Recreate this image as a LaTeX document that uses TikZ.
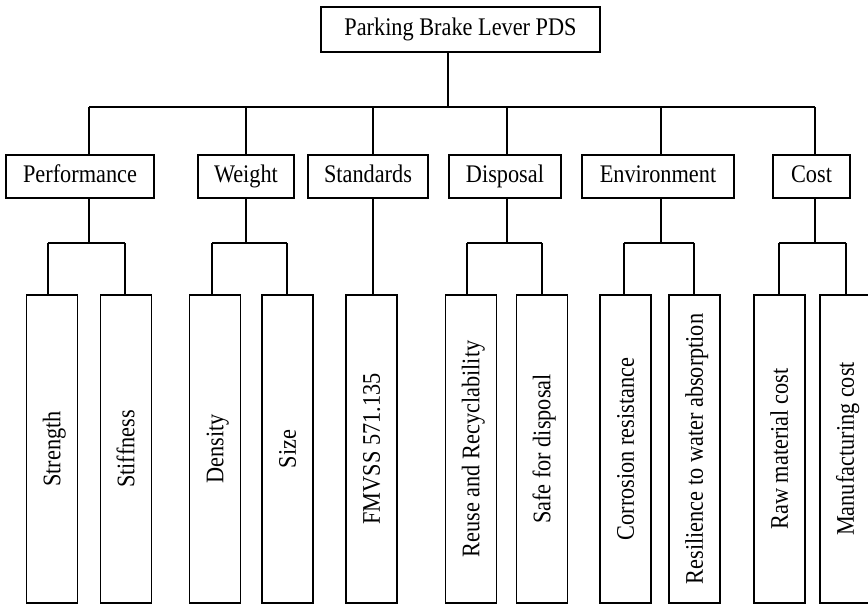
\documentclass[tikz,border=0pt]{standalone}
\usepackage{fontspec}
\setmainfont{Liberation Serif}[FakeStretch=0.88]
\usepackage{tikz}

\begin{document}
\begin{tikzpicture}[x=0.75pt,y=-0.75pt,line width=1.1pt,
	box/.style={draw,rectangle,inner sep=0pt,text height=12.6pt,text depth=4pt,font=\fontsize{19}{22}\selectfont},
	cat/.style={box,minimum height=32.25pt},
	leaf/.style={box,rotate=90,minimum width=231pt,minimum height=38.25pt,text height=15.6pt,text depth=3pt}]
	\useasboundingbox (0,0) rectangle (868,605);

	\node[box,minimum width=209.25pt,minimum height=33.75pt] (top) at (460.5,29.5) {Parking Brake Lever PDS};

	\node[cat,minimum width=111pt] (perf) at (80,176.5) {Performance};
	\node[cat,minimum width=72pt] (weight) at (246,176.5) {Weight};
	\node[cat,minimum width=90pt] (std) at (368,176.5) {Standards};
	\node[cat,minimum width=84pt] (disp) at (505,176.5) {Disposal};
	\node[cat,minimum width=114pt] (env) at (658,176.5) {Environment};
	\node[cat,minimum width=57.75pt] (cost) at (811.5,176.5) {Cost};

	\node[leaf] (strength) at (52,449) {Strength};
	\node[leaf] (stiffness) at (126,449) {Stiffness};
	\node[leaf] (density) at (215,449) {Density};
	\node[leaf] (size) at (287.5,449) {Size};
	\node[leaf] (fmvss) at (371.5,449) {FMVSS 571.135};
	\node[leaf] (reuse) at (471,449) {Reuse and Recyclability};
	\node[leaf] (safe) at (542,449) {Safe for disposal};
	\node[leaf] (corr) at (625.5,449) {Corrosion resistance};
	\node[leaf] (resil) at (694.5,449) {Resilience to water absorption};
	\node[leaf] (raw) at (779.5,449) {Raw material cost};
	\node[leaf] (manuf) at (845.5,449) {Manufacturing cost};

	\draw (top.south -| 448,0) -- (448,107) (89,107) -- (815,107);
	\foreach \n/\x in {perf/89,weight/246,std/373,disp/507,env/661,cost/815}
		\draw (\x,107) -- (\n.north -| \x,0);

	\foreach \p/\x/\a/\b in {perf/89/48/125,weight/246/212/287,disp/507/467/542,env/661/624/694,cost/815/779/846}
		\draw (\p.south -| \x,0) -- (\x,243) (\a,243) -- (\b,243);
	\draw (std.south -| 373,0) -- (fmvss.east -| 373,0);

	\foreach \n/\x in {strength/48,stiffness/125,density/212,size/287,reuse/467,safe/542,corr/624,resil/694,raw/779,manuf/846}
		\draw (\x,243) -- (\n.east -| \x,0);
\end{tikzpicture}
\end{document}
